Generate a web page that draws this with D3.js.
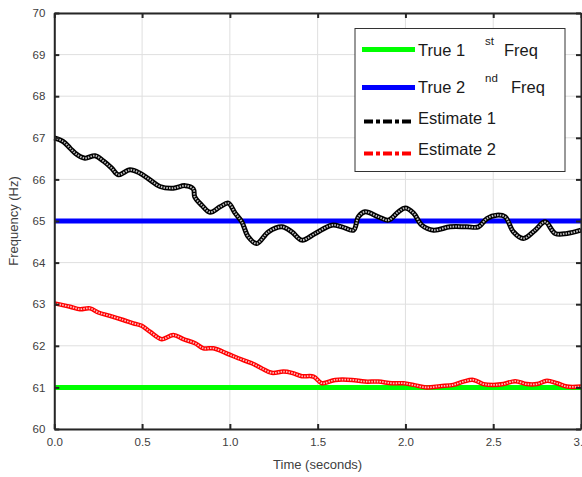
<!DOCTYPE html>
<html>
<head>
<meta charset="utf-8">
<script src="https://cdn.jsdelivr.net/npm/d3@7"></script>
<style>
  body { margin: 0; background: #fff; }
  svg { display: block; font-family: "Liberation Sans", Arial, sans-serif; }
</style>
</head>
<body>
<svg id="chart"></svg>
<script>
// values
const xTicks = [0, 0.5, 1, 1.5, 2, 2.5, 3]
const yTicks = [60, 61, 62, 63, 64, 65, 66, 67, 68, 69, 70]

const trueFreq1 = 61
const trueFreq2 = 65

const est1Time = [0, 0.051, 0.09, 0.128, 0.175, 0.232, 0.28, 0.327, 0.365, 0.431, 0.488, 0.545, 0.602, 0.678, 0.745, 0.792, 0.80, 0.84, 0.887, 0.944, 0.991,
  1.03, 1.068, 1.105, 1.153, 1.22, 1.296, 1.353, 1.41, 1.486, 1.58, 1.638, 1.704, 1.732, 1.77, 1.846, 1.903, 1.96, 1.998,
  2.046, 2.093, 2.16, 2.255, 2.35, 2.416, 2.464, 2.52, 2.568, 2.615, 2.672, 2.739, 2.796, 2.853, 2.92, 3.0]
const est1Freq = [67.0, 66.91, 66.75, 66.60, 66.51, 66.57, 66.44, 66.27, 66.11, 66.23, 66.15, 65.99, 65.83, 65.79, 65.85, 65.77, 65.58, 65.38, 65.21, 65.34, 65.43,
  65.19, 64.98, 64.62, 64.46, 64.74, 64.86, 64.74, 64.54, 64.70, 64.90, 64.86, 64.78, 65.10, 65.22, 65.10, 65.02, 65.22, 65.31,
  65.19, 64.90, 64.78, 64.86, 64.86, 64.86, 65.06, 65.14, 65.10, 64.74, 64.58, 64.78, 64.98, 64.70, 64.70, 64.78]

const est2Time = [0, 0.09, 0.146, 0.203, 0.251, 0.317, 0.393, 0.45, 0.498, 0.545, 0.612, 0.678, 0.735, 0.802, 0.849, 0.906, 0.991,
  1.048, 1.125, 1.18, 1.239, 1.305, 1.353, 1.41, 1.476, 1.524, 1.6, 1.695, 1.77, 1.846, 1.922, 1.99,
  2.046, 2.12, 2.198, 2.273, 2.33, 2.387, 2.444, 2.5, 2.558, 2.625, 2.69, 2.749, 2.806, 2.863, 2.92, 3.0]
const est2Freq = [63.02, 62.94, 62.88, 62.90, 62.80, 62.72, 62.62, 62.54, 62.48, 62.34, 62.16, 62.26, 62.16, 62.06, 61.94, 61.94, 61.80,
  61.70, 61.58, 61.46, 61.35, 61.38, 61.35, 61.27, 61.26, 61.10, 61.18, 61.18, 61.14, 61.14, 61.10, 61.10,
  61.06, 61.00, 61.03, 61.06, 61.14, 61.18, 61.08, 61.06, 61.08, 61.15, 61.08, 61.08, 61.16, 61.10, 61.02, 61.02]

const width = 582
const height = 477
const margin = { top: 13, right: 1, bottom: 48, left: 54.3 }
const innerW = width - margin.left - margin.right
const innerH = height - margin.top - margin.bottom

const axisColor = '#262626'
const textColor = '#404040'

const svg = d3.select('#chart')
    .attr('width', width)
    .attr('height', height)

const g = svg.append('g')
    .attr('transform', `translate(${margin.left},${margin.top})`)

const xScale = d3.scaleLinear().domain([0, 3]).range([0, innerW])
const yScale = d3.scaleLinear().domain([60, 70]).range([innerH, 0])

// grid
g.append('g')
    .selectAll('line.vgrid')
    .data(xTicks)
    .join('line')
    .attr('x1', d => xScale(d)).attr('x2', d => xScale(d))
    .attr('y1', 0).attr('y2', innerH)
    .attr('stroke', '#dfdfdf')
    .attr('stroke-width', 1)
g.append('g')
    .selectAll('line.hgrid')
    .data(yTicks)
    .join('line')
    .attr('x1', 0).attr('x2', innerW)
    .attr('y1', d => yScale(d)).attr('y2', d => yScale(d))
    .attr('stroke', '#dfdfdf')
    .attr('stroke-width', 1)

// true frequencies
g.append('line')
    .attr('x1', xScale(0)).attr('x2', xScale(3))
    .attr('y1', yScale(trueFreq1)).attr('y2', yScale(trueFreq1))
    .attr('stroke', '#00ff00')
    .attr('stroke-width', 5)
g.append('line')
    .attr('x1', xScale(0)).attr('x2', xScale(3))
    .attr('y1', yScale(trueFreq2)).attr('y2', yScale(trueFreq2))
    .attr('stroke', '#0000ff')
    .attr('stroke-width', 5)

// estimates
const line = d3.line()
    .x(d => xScale(d[0]))
    .y(d => yScale(d[1]))
    .curve(d3.curveCatmullRom)

const est1 = est1Time.map((t, i) => [t, est1Freq[i]])
const est2 = est2Time.map((t, i) => [t, est2Freq[i]])

function speckled(data, color, w) {
    g.append('path')
        .datum(data)
        .attr('d', line)
        .attr('fill', 'none')
        .attr('stroke', color)
        .attr('stroke-width', w)
        .attr('stroke-linejoin', 'round')
    g.append('path')
        .datum(data)
        .attr('d', line)
        .attr('fill', 'none')
        .attr('stroke', 'white')
        .attr('stroke-width', w * 0.4)
        .attr('stroke-opacity', 0.75)
        .attr('stroke-dasharray', '1.5 1.2')
}
speckled(est1, '#000', 5)
speckled(est2, '#ff0000', 4.5)

// axes box with inward ticks
const xAxisB = d3.axisBottom(xScale).tickValues(xTicks).tickSizeInner(-5).tickSizeOuter(0).tickPadding(9)
const xAxisT = d3.axisTop(xScale).tickValues(xTicks).tickSizeInner(-5).tickSizeOuter(0).tickFormat('')
const yAxisL = d3.axisLeft(yScale).tickValues(yTicks).tickSizeInner(-5).tickSizeOuter(0).tickPadding(9)
const yAxisR = d3.axisRight(yScale).tickValues(yTicks).tickSizeInner(-5).tickSizeOuter(0).tickFormat('')

function styleAxis(sel) {
    sel.select('.domain').attr('stroke', axisColor).attr('stroke-width', 2)
    sel.selectAll('.tick line').attr('stroke', axisColor).attr('stroke-width', 2)
    sel.selectAll('.tick text').attr('fill', textColor).style('font-size', '11.5px')
}

g.append('g').attr('transform', `translate(0,${innerH})`).call(xAxisB).call(styleAxis)
g.append('g').call(xAxisT).call(styleAxis)
g.append('g').call(yAxisL).call(styleAxis)
g.append('g').attr('transform', `translate(${innerW},0)`).call(yAxisR).call(styleAxis)

// axis labels
svg.append('text')
    .attr('x', margin.left + innerW / 2)
    .attr('y', 469)
    .attr('text-anchor', 'middle')
    .attr('fill', textColor)
    .style('font-size', '13px')
    .text('Time (seconds)')
svg.append('text')
    .attr('transform', `translate(18,${margin.top + innerH / 2}) rotate(-90)`)
    .attr('text-anchor', 'middle')
    .attr('fill', textColor)
    .style('font-size', '13px')
    .text('Frequency (Hz)')

// legend
const legend = svg.append('g').attr('transform', 'translate(355,28.5)')
legend.append('rect')
    .attr('width', 210).attr('height', 143)
    .attr('fill', '#fff')
    .attr('stroke', '#333')
    .attr('stroke-width', 1)

const legendItems = [
    { name: 'True 1', sup: 'st', tail: 'Freq', color: '#00ff00', dash: null, ly: 21, ty: 27, supX: 130, tailX: 149 },
    { name: 'True 2', sup: 'nd', tail: 'Freq', color: '#0000ff', dash: null, ly: 59, ty: 64, supX: 130, tailX: 156 },
    { name: 'Estimate 1', sup: null, color: '#000', dash: '9 3 4 3', ly: 93, ty: 95 },
    { name: 'Estimate 2', sup: null, color: '#ff0000', dash: '9 3 4 3', ly: 125, ty: 126 }
]

legendItems.forEach(d => {
    legend.append('line')
        .attr('x1', d.dash ? 9 : 7).attr('x2', d.dash ? 58 : 60)
        .attr('y1', d.ly).attr('y2', d.ly)
        .attr('stroke', d.color)
        .attr('stroke-width', d.dash ? 4 : 5)
        .attr('stroke-dasharray', d.dash)
    legend.append('text')
        .attr('x', 63).attr('y', d.ty)
        .attr('fill', '#1a1a1a')
        .style('font-size', '16.5px')
        .text(d.name)
    if (d.sup) {
        legend.append('text')
            .attr('x', d.supX).attr('y', d.ty - 11)
            .attr('fill', '#1a1a1a')
            .style('font-size', '11.5px')
            .text(d.sup)
        legend.append('text')
            .attr('x', d.tailX).attr('y', d.ty)
            .attr('fill', '#1a1a1a')
            .style('font-size', '16.5px')
            .text(d.tail)
    }
})
</script>
</body>
</html>
